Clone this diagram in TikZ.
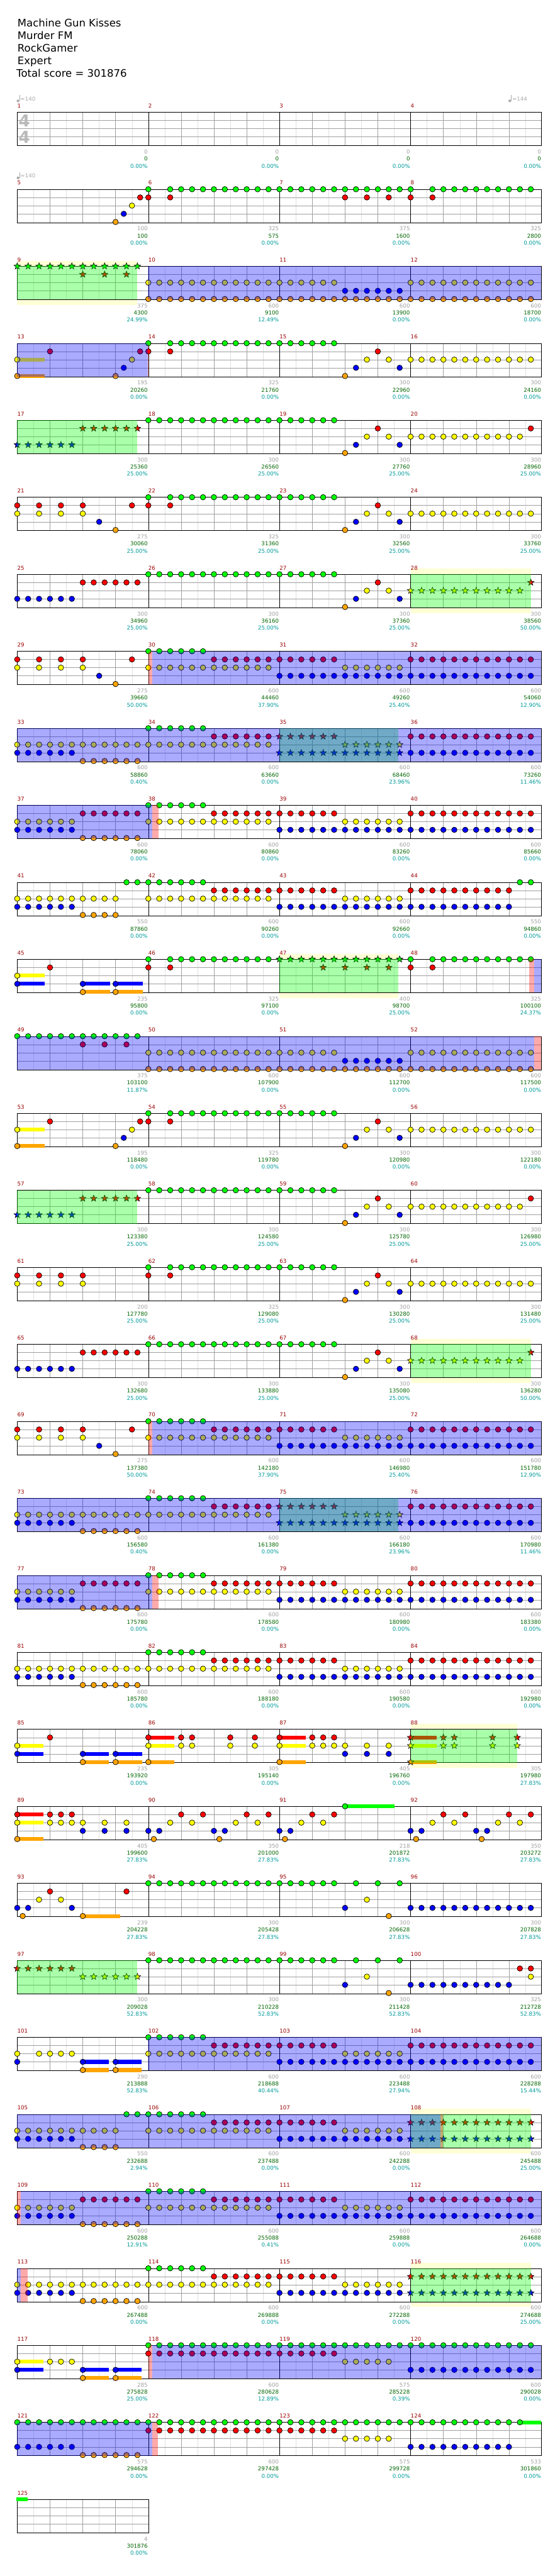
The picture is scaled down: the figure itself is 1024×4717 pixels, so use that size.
\documentclass[tikz,border=0pt]{standalone}
\usepackage{fontspec}
\setmainfont{DejaVu Sans}
\usetikzlibrary{shapes.geometric}
\definecolor{gfret}{RGB}{0,255,0}
\definecolor{rfret}{RGB}{255,0,0}
\definecolor{yfret}{RGB}{255,255,0}
\definecolor{bfret}{RGB}{0,0,255}
\definecolor{ofret}{RGB}{255,165,0}
\definecolor{gridgray}{RGB}{160,160,160}
\definecolor{gridlight}{RGB}{224,224,224}
\definecolor{tempogray}{RGB}{170,170,170}
\definecolor{sigray}{RGB}{185,185,185}
\definecolor{basegray}{RGB}{160,160,160}
\definecolor{totgreen}{RGB}{0,100,0}
\definecolor{pctteal}{RGB}{0,153,153}
\definecolor{numred}{RGB}{153,0,0}
\definecolor{backyellow}{RGB}{255,255,213}
\tikzset{
  note/.style={draw=black, line width=0.8pt},
  starnote/.style={draw=black, line width=0.7pt, star, star points=5, star point ratio=2.4, minimum size=12.5pt, inner sep=0pt},
  spwash/.style={fill=gfret, fill opacity=0.333},
  odwash/.style={fill=bfret, fill opacity=0.333},
  pkwash/.style={fill=rfret, fill opacity=0.333},
  smalltext/.style={inner sep=0pt, font=\fontsize{10}{12}\selectfont},
  barnum/.style={smalltext, anchor=base west, text=numred},
  basescore/.style={smalltext, anchor=base east, text=basegray},
  totscore/.style={smalltext, anchor=base east, text=totgreen},
  pctscore/.style={smalltext, anchor=base east, text=pctteal},
  temponum/.style={smalltext, anchor=base west, text=tempogray},
  titletext/.style={inner sep=0pt, anchor=base west, font=\fontsize{19}{23}\selectfont},
  timesig/.style={inner sep=0pt, text=sigray, font=\bfseries\fontsize{30}{30}\selectfont}
}
% altura de cada traste
\def\ypg{0}\def\ypr{15}\def\ypy{30}\def\ypb{45}\def\ypo{60}
\newcommand{\nts}[2]{\foreach \x in {#2}{\filldraw[note,fill=#1fret] (\x,\csname yp#1\endcsname) circle[radius=5];}}
\newcommand{\strs}[2]{\foreach \x in {#2}{\node[starnote,fill=#1fret] at (\x,\csname yp#1\endcsname) {};}}
\newcommand{\sus}[3]{\fill[#1fret] (#2,{\csname yp#1\endcsname-3.5}) rectangle (#3,{\csname yp#1\endcsname+3.5});}
\newcommand{\spw}[2]{\fill[spwash] (#1,0) rectangle (#2,61);}
\newcommand{\odr}[2]{\fill[odwash] (#1,0) rectangle (#2,61);}
\newcommand{\pnk}[2]{\fill[pkwash] (#1,0) rectangle (#2,61);}
\newcommand{\bkd}[2]{\fill[backyellow] (#1,-10) rectangle (#2,0); \fill[backyellow] (#1,61) rectangle (#2,71);}
\newcommand{\tempomark}[2]{
  \fill[tempogray] (#1+1.5,-20.8) circle[radius=2.5];
  \draw[tempogray] (#1+4,-21) -- (#1+4,-31.5);
  \node[temponum] (tempo-#2) at (#1+5.7,-21) {=#2};
}
% lineas del pentagrama
\def\lightx{30,90,...,930}\def\beatx{60,120,...,900}\def\barx{240,480,720}\def\rightx{959}
\newcommand{\staffgrid}{
  \foreach \x in \lightx {\draw[gridlight] (\x,0) -- (\x,61);}
  \foreach \x in \beatx {\draw[gridgray] (\x,0) -- (\x,61);}
  \foreach \y in {15,30,45} {\draw[gridgray] (0,\y) -- (\rightx,\y);}
  \foreach \x in \barx {\draw[black] (\x,0) -- (\x,61);}
  \draw[black] (0,0) rectangle (\rightx,61);
}
% fila: numero, fondo, notas, capas, marcadores
\newcommand{\chart}[5]{
  \begin{scope}[shift={(31.5,{205.5+141*#1})}]
    #2
    \staffgrid
    #3
    #4
    \foreach \bs/\tot/\pc [count=\c] in {#5}{
      \pgfmathtruncatemacro{\mnum}{4*#1+\c}
      \node[barnum] (num-\mnum) at ({240*(\c-1)},-8) {\mnum};
      \node[basescore] (base-\mnum) at ({240*\c-1},76) {\bs};
      \node[totscore] (tot-\mnum) at ({240*\c-1},89) {\tot};
      \node[pctscore] (pct-\mnum) at ({240*\c-1},102) {\pc\%};
    }
  \end{scope}
}
% patrones que se repiten
\def\lick{\nts{o}{600}\nts{b}{620,700}\nts{y}{640,680}\nts{r}{660}}
\def\drive{\nts{g}{240,260,...,340}\nts{r}{360,380,...,580,720,740,...,940}\nts{y}{600,620,...,700}\nts{b}{480,500,...,940}}
\def\riffstar{\strs{b}{0,20,...,100}\strs{r}{120,140,...,220}\nts{g}{240,260,...,580}\lick\nts{y}{720,740,...,920}\nts{r}{940}}
\def\riffsolo{\nts{b}{0,20,...,100}\nts{r}{120,140,...,220}\nts{g}{240,260,...,580}\lick\strs{y}{720,740,...,920}\strs{r}{940}}
\def\riffopen{\nts{r}{0,40,80,120,210}\nts{y}{0,40,80,120,240,260,...,460}\nts{b}{150}\nts{o}{180}\drive}
\def\riffover{\nts{y}{0,20,...,460}\nts{b}{0,20,...,100,720,740,...,940}\nts{o}{120,140,...,220}\nts{g}{240,260,...,340}\nts{r}{360,380,...,460,720,740,...,940}\strs{r}{480,500,...,580}\strs{y}{600,620,...,700}\strs{b}{480,500,...,700}}
\def\riffback{\nts{y}{0,20,...,100,240,260,...,460}\nts{b}{0,20,...,100}\nts{r}{120,140,...,220}\nts{o}{120,140,...,220}\drive}
\def\riffint{\sus{y}{0}{50}\sus{o}{0}{50}\nts{r}{60,225,240,280}\nts{y}{0,210,720,740,...,940}\nts{b}{195}\nts{o}{0,180}\nts{g}{240,280,300,...,580}\lick}
\def\riffdouble{\sus{b}{120}{168}\sus{b}{180}{228}\sus{o}{120}{168}\sus{o}{180}{228}}
\begin{document}
\begin{tikzpicture}[x=1pt,y=-1pt]
\useasboundingbox (0,0) rectangle (1024,4717);
% cabecera
\node[titletext] (song) at (32,49) {Machine Gun Kisses};
\node[titletext] (band) at (32,72) {Murder FM};
\node[titletext] (game) at (32,95) {RockGamer};
\node[titletext] (level) at (32,118) {Expert};
\node[titletext] (total) at (30,141) {Total score = 301876};
% filas
\chart{0}{}{\node[timesig] (sigtop) at (13,16) {4}; \node[timesig] (sigbot) at (13,45) {4};
  \tempomark{0}{140}\tempomark{900}{144}}{}
  {0/0/0.00,0/0/0.00,0/0/0.00,0/0/0.00}
\chart{1}{}{\tempomark{0}{140}
  \nts{g}{240,280,300,...,720,760,780,...,940}\nts{r}{225,240,280,600,640,680,720,760}\nts{y}{210}\nts{b}{195}\nts{o}{180}}{}
  {100/100/0.00,325/575/0.00,375/1600/0.00,325/2800/0.00}
\chart{2}{\bkd{0}{220}}{\strs{g}{0,20,...,220}\strs{r}{120,160,200}\nts{y}{240,260,...,580,720,740,...,940}\nts{b}{600,620,...,700}\nts{o}{240,260,...,940}}{\spw{0}{220}\odr{239}{959}}
  {375/4300/24.99,600/9100/12.49,600/13900/0.00,600/18700/0.00}
\chart{3}{}{\riffint}{\odr{0}{239}\pnk{239}{240}}
  {195/20260/0.00,325/21760/0.00,300/22960/0.00,300/24160/0.00}
\chart{4}{}{\riffstar}{\spw{0}{220}}
  {300/25360/25.00,300/26560/25.00,300/27760/25.00,300/28960/25.00}
\chart{5}{}{\nts{r}{0,40,80,120,210,240,280}\nts{y}{0,40,80,120,720,740,...,940}\nts{b}{150}\nts{o}{180}\nts{g}{240,280,300,...,580}\lick}{}
  {275/30060/25.00,325/31360/25.00,300/32560/25.00,300/33760/25.00}
\chart{6}{\bkd{720}{940}}{\riffsolo}{\spw{720}{940}}
  {300/34960/25.00,300/36160/25.00,300/37360/25.00,300/38560/50.00}
\chart{7}{}{\riffopen}{\pnk{240}{247}\odr{247}{959}}
  {275/39660/50.00,600/44460/37.90,600/49260/25.40,600/54060/12.90}
\chart{8}{}{\riffover}{\spw{480}{698}\odr{0}{959}}
  {600/58860/0.40,600/63660/0.00,600/68460/23.96,600/73260/11.46}
\chart{9}{}{\riffback}{\odr{0}{247}\pnk{247}{259}}
  {600/78060/0.00,600/80860/0.00,600/83260/0.00,600/85660/0.00}
\chart{10}{}{\nts{y}{0,20,...,180,240,260,...,460,600,620,...,700}\nts{b}{0,20,...,100,480,500,...,900}\nts{o}{120,140,...,180}\nts{g}{200,220,...,340,920,940}\nts{r}{360,380,...,580,720,740,...,900}}{}
  {550/87860/0.00,600/90260/0.00,600/92660/0.00,550/94860/0.00}
\chart{11}{\bkd{480}{698}}{\sus{y}{0}{50}\sus{b}{0}{50}\sus{b}{120}{170}\sus{b}{180}{230}\sus{o}{120}{170}\sus{o}{180}{230}
  \nts{y}{0}\nts{b}{0,120,180}\nts{o}{120,180}\nts{r}{60,240,280,720,760}\nts{g}{240,280,300,...,460,720,760,780,...,940}\strs{g}{480,500,...,700}\strs{r}{560,600,640,680}}{\spw{480}{698}\pnk{937}{946}\odr{946}{959}}
  {235/95800/0.00,325/97100/0.00,400/98700/25.00,325/100100/24.37}
\chart{12}{}{\nts{g}{0,20,...,220}\nts{r}{120,160,200}\nts{y}{240,260,...,580,720,740,...,940}\nts{b}{600,620,...,700}\nts{o}{240,260,...,940}}{\odr{0}{946}\pnk{946}{959}}
  {375/103100/11.87,600/107900/0.00,600/112700/0.00,600/117500/0.00}
\chart{13}{}{\riffint}{}
  {195/118480/0.00,325/119780/0.00,300/120980/0.00,300/122180/0.00}
\chart{14}{}{\riffstar}{\spw{0}{220}}
  {300/123380/25.00,300/124580/25.00,300/125780/25.00,300/126980/25.00}
\chart{15}{}{\nts{r}{0,40,80,120,240,280}\nts{y}{0,40,80,120,720,740,...,940}\nts{g}{240,280,300,...,580}\lick}{}
  {200/127780/25.00,325/129080/25.00,300/130280/25.00,300/131480/25.00}
\chart{16}{\bkd{720}{940}}{\riffsolo}{\spw{720}{940}}
  {300/132680/25.00,300/133880/25.00,300/135080/25.00,300/136280/50.00}
\chart{17}{}{\riffopen}{\pnk{240}{247}\odr{247}{959}}
  {275/137380/50.00,600/142180/37.90,600/146980/25.40,600/151780/12.90}
\chart{18}{}{\riffover}{\spw{480}{698}\odr{0}{959}}
  {600/156580/0.40,600/161380/0.00,600/166180/23.96,600/170980/11.46}
\chart{19}{}{\riffback}{\odr{0}{247}\pnk{247}{259}}
  {600/175780/0.00,600/178580/0.00,600/180980/0.00,600/183380/0.00}
\chart{20}{}{\nts{y}{0,20,...,460}\nts{b}{0,20,...,100}\nts{o}{120,140,...,220}\drive}{}
  {600/185780/0.00,600/188180/0.00,600/190580/0.00,600/192980/0.00}
\chart{21}{\bkd{720}{915}}{\sus{y}{0}{48}\sus{b}{0}{48}\sus{b}{120}{168}\sus{b}{180}{229}\sus{o}{120}{168}\sus{o}{180}{229}
  \sus{r}{240}{288}\sus{y}{240}{288}\sus{o}{240}{288}\sus{r}{480}{528}\sus{y}{480}{528}\sus{o}{480}{528}\sus{r}{720}{768}\sus{y}{720}{768}\sus{o}{720}{768}
  \nts{y}{0,240,300,320,390,435,480,540,560,580,600,640,680}\nts{b}{0,120,180,600,640,680}\nts{r}{60,240,300,320,390,435,480,540,560,580}\nts{o}{120,180,240,480}
  \strs{r}{720,780,800,870,915}\strs{y}{720,780,800,870,915}\strs{o}{720}}{\spw{720}{915}}
  {235/193920/0.00,305/195140/0.00,405/196760/0.00,305/197980/27.83}
\chart{22}{}{\sus{r}{0}{48}\sus{y}{0}{48}\sus{o}{0}{48}\sus{g}{600}{690}
  \nts{r}{0,60,80,100,300,340,420,460,540,580,780,820,900,940}\nts{y}{0,60,80,100,120,160,200,280,320,400,440,520,560,760,800,880,920}
  \nts{b}{120,160,200,240,260,360,380,480,500,720,740,840,860}\nts{o}{0,250,370,490,730,850}\nts{g}{600}}{}
  {405/199600/27.83,350/201000/27.83,218/201872/27.83,350/203272/27.83}
\chart{23}{}{\sus{o}{120}{189}\nts{g}{240,260,...,580,620,660,700}\nts{b}{0,20,100,600,720,740,...,940}\nts{o}{10,120,680}\nts{r}{60,200}\nts{y}{40,80,640}}{}
  {239/204228/27.83,300/205428/27.83,300/206628/27.83,300/207828/27.83}
\chart{24}{}{\strs{r}{0,20,...,100}\strs{y}{120,140,...,220}\nts{g}{240,260,...,580,620,660,700}\nts{b}{600,720,740,...,900}\nts{y}{640,940}\nts{o}{680}\nts{r}{920,940}}{\spw{0}{220}}
  {300/209028/52.83,300/210228/52.83,300/211428/52.83,325/212728/52.83}
\chart{25}{}{\riffdouble\nts{y}{0,40,60,80,100,240,260,...,460}\nts{b}{0,120,180}\nts{o}{120,180}\drive}{\odr{239}{959}}
  {290/213888/52.83,600/218688/40.44,600/223488/27.94,600/228288/15.44}
\chart{26}{\bkd{720}{940}}{\nts{y}{0,20,...,180,240,260,...,460,600,620,...,700}\nts{g}{200,220,...,340}\nts{b}{0,20,...,100,480,500,...,700}\nts{o}{120,140,...,180}\nts{r}{360,380,...,580}\strs{r}{720,740,...,940}\strs{b}{720,740,...,940}}{\spw{720}{940}\odr{0}{775}\pnk{775}{779}}
  {550/232688/2.94,600/237488/0.00,600/242288/0.00,600/245488/25.00}
\chart{27}{}{\riffback}{\pnk{0}{6}\odr{6}{959}}
  {600/250288/12.91,600/255088/0.41,600/259888/0.00,600/264688/0.00}
\chart{28}{\bkd{720}{940}}{\nts{y}{0,20,...,460,600,620,...,700}\nts{b}{0,20,...,100,480,500,...,700}\nts{o}{120,140,...,220}\nts{g}{240,260,...,340}\nts{r}{360,380,...,580}\strs{r}{720,740,...,940}\strs{b}{720,740,...,940}}{\spw{720}{940}\odr{0}{7}\pnk{7}{19}}
  {600/267488/0.00,600/269888/0.00,600/272288/0.00,600/274688/25.00}
\chart{29}{}{\sus{y}{0}{48}\sus{b}{0}{48}\riffdouble\nts{y}{0,60,80,100,600,620,...,680}\nts{b}{0,120,180,720,740,...,940}\nts{o}{120,180}\nts{g}{240,260,...,940}\nts{r}{240,260,...,580}}{\pnk{240}{247}\odr{247}{959}}
  {285/275828/25.00,600/280628/12.89,575/285228/0.39,600/290028/0.00}
\chart{30}{}{\sus{g}{920}{959}\nts{g}{0,20,...,920}\nts{b}{0,20,...,100,720,740,...,900}\nts{o}{120,140,...,220}\nts{r}{240,260,...,580}\nts{y}{600,620,...,680}}{\odr{0}{247}\pnk{247}{258}}
  {575/294628/0.00,600/297428/0.00,575/299728/0.00,533/301860/0.00}
% ultimo compas, mas corto
\def\lightx{30,90,150,210}\def\beatx{60,120,180}\def\barx{0}\def\rightx{240}
\chart{31}{}{\sus{g}{-1}{19}}{}
  {4/301876/0.00}
\end{tikzpicture}
\end{document}
